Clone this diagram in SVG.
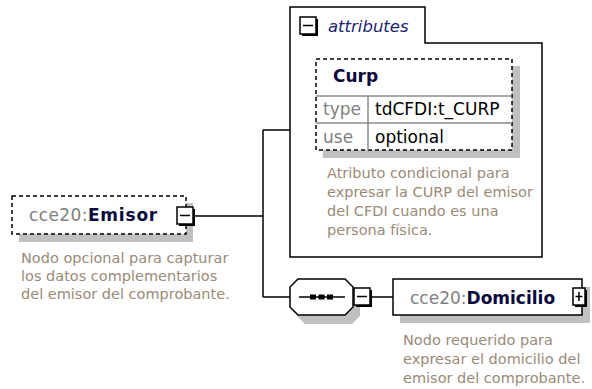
<svg xmlns="http://www.w3.org/2000/svg" width="592" height="389" viewBox="0 0 592 389">
<style>
.ln{stroke:#000;stroke-width:1.5;fill:none}
.box{fill:#fff;stroke:#000;stroke-width:1.5}
.dash{fill:#fff;stroke:#000;stroke-width:1.5;stroke-dasharray:4,3}
.shd{fill:#c0c0c0;stroke:none}
.sep{stroke:#8a8a8a;stroke-width:1.5;fill:none}
.t{font-family:"DejaVu Sans",Verdana,sans-serif}
.ns{fill:#808080}
.nm{fill:#0a0a3c;font-weight:bold}
.desc{font-family:"DejaVu Sans",Verdana,sans-serif;font-size:14.5px;fill:#9a8a78}
.lbl{font-family:"DejaVu Sans",Verdana,sans-serif;font-size:17px}
</style>
<defs>
<g id="minus"><rect x="2" y="2" width="16" height="17" fill="#000"/><rect x="0" y="0" width="16" height="17" fill="#fff" stroke="#000" stroke-width="1.5"/><line x1="3" y1="8.5" x2="13" y2="8.5" stroke="#000" stroke-width="1.5"/></g>
</defs>

<g id="connectors">
<path class="ln" d="M194,216 H263 M263,130 V297 M263,130 H291 M263,297 H290 M372,297 H393"/>
</g>

<g id="attributes">
<path class="box" d="M290,7 H425 V43 H542 V257 H290 Z"/>
<use href="#minus" x="300" y="17"/>
<text class="t" x="328" y="32" font-size="16.5" font-style="italic" fill="#1c2470">attributes</text>
<g id="curp">
<rect class="shd" x="323" y="66" width="197" height="92"/>
<rect class="dash" x="316" y="59" width="196" height="91"/>
<path class="sep" d="M316,96 H512 M316,123 H512 M368,96 V150"/>
<text class="t nm" x="333" y="82" font-size="17">Curp</text>
<text class="lbl ns" x="323" y="115">type</text>
<text class="lbl" x="375" y="115" fill="#000">tdCFDI:t_CURP</text>
<text class="lbl ns" x="323" y="143">use</text>
<text class="lbl" x="375" y="143" fill="#000">optional</text>
</g>
<text class="desc"><tspan x="327" y="178">Atributo condicional para</tspan><tspan x="327" y="197">expresar la CURP del emisor</tspan><tspan x="327" y="216">del CFDI cuando es una</tspan><tspan x="327" y="235">persona física.</tspan></text>
</g>

<g id="emisor">
<rect class="shd" x="19" y="203" width="174" height="39"/>
<rect class="dash" x="12" y="196" width="174" height="38"/>
<text class="lbl" x="29" y="221"><tspan class="ns" letter-spacing="0.4">cce20:</tspan><tspan class="nm" letter-spacing="0.8">Emisor</tspan></text>
<use href="#minus" x="177" y="207"/>
<text class="desc"><tspan x="21" y="263">Nodo opcional para capturar</tspan><tspan x="21" y="281">los datos complementarios</tspan><tspan x="21" y="299">del emisor del comprobante.</tspan></text>
</g>

<g id="sequence">
<polygon class="shd" points="305,288 352,288 360,296 360,316 352,324 305,324 297,316 297,296"/>
<polygon class="box" points="298,279 345,279 353,287 353,307 345,315 298,315 290,307 290,287"/>
<line x1="299" y1="297" x2="345" y2="297" stroke="#000" stroke-width="1.5"/>
<rect x="310" y="294.5" width="6" height="5" fill="#000"/>
<rect x="318.5" y="294.5" width="6" height="5" fill="#000"/>
<rect x="327" y="294.5" width="6" height="5" fill="#000"/>
<use href="#minus" x="354" y="288"/>
</g>

<g id="domicilio">
<rect class="shd" x="400" y="287" width="190" height="36"/>
<rect class="box" x="393" y="279" width="189" height="36"/>
<text class="lbl" x="410" y="304"><tspan class="ns">cce20:</tspan><tspan class="nm">Domicilio</tspan></text>
<rect x="575" y="290" width="12" height="17" fill="#000"/>
<rect x="573" y="288" width="12" height="17" fill="#fff" stroke="#000" stroke-width="1.5"/>
<path d="M575.5,296.5 H582.5 M579,292 V301" stroke="#000" stroke-width="1.5"/>
<text class="desc"><tspan x="403" y="345">Nodo requerido para</tspan><tspan x="403" y="364">expresar el domicilio del</tspan><tspan x="403" y="383">emisor del comprobante.</tspan></text>
</g>
</svg>
